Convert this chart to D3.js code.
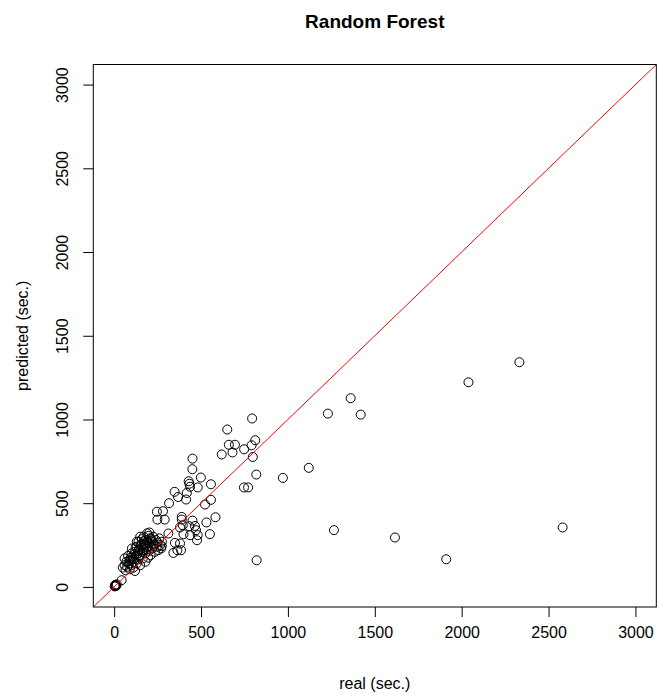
<!DOCTYPE html>
<html>
<head>
<meta charset="utf-8">
<script src="https://cdn.jsdelivr.net/npm/d3@7"></script>
<style>
  body { margin: 0; background: #fff; }
  text { font-family: "Liberation Sans", Arial, sans-serif; fill: #000; }
</style>
</head>
<body>
<div id="chart"></div>
<script>
// real vs predicted run times (sec.)
const realSec = [
  // near zero
  5, 10, 8, 12, 3, 15, 6, 43,
  // dense cluster
  60, 70, 75, 80, 85, 90, 95, 100, 100, 105, 110, 115, 120, 120, 125, 130, 130, 135, 140, 140,
  145, 150, 150, 155, 160, 160, 165, 170, 170, 175, 180, 180, 185, 190, 190, 195, 200, 200,
  205, 210, 210, 215, 220, 225, 230, 235, 240, 245, 250, 255, 260, 265, 270, 275, 110, 130,
  150, 60, 50, 65, 102, 203, 274,
  88, 118, 138, 158, 172, 186, 198, 212, 228, 142, 168, 192, 124, 96, 176,
  // mid group
  246, 281, 249, 291, 312, 316, 341, 350, 364, 379, 385, 348, 368, 389, 389, 379, 395, 399,
  414, 418, 429, 433, 433, 437, 437, 451, 450, 451, 465, 471, 481, 477, 481, 499, 523, 531,
  551, 557, 557, 583, 619, 651, 660, 681, 695, 747, 748, 771, 791, 794, 798, 812, 818, 820,
  // outliers
  971, 1120, 1230, 1265, 1361, 1419, 1616, 1911, 2039, 2332, 2581
];
const predictedSec = [
  10, 5, 12, 8, 3, 15, 6, 40,
  170, 150, 120, 185, 140, 105, 160, 130, 200, 175, 115, 150, 210, 95, 180, 140, 240, 200, 165, 270,
  225, 190, 130, 250, 285, 210, 170, 235, 300, 260, 200, 150, 280, 240, 320, 175, 260, 215,
  290, 245, 190, 270, 230, 300, 255, 210, 280, 240, 265, 220, 290, 250, 230, 270, 165, 270,
  300, 130, 115, 100, 229, 325, 243,
  155, 195, 215, 255, 275, 225, 305, 285, 245, 185, 220, 265, 235, 175, 250,
  449, 452, 402, 402, 319, 500, 203, 263, 219, 259, 219, 568, 537, 418, 402, 355, 368, 315,
  522, 561, 631, 616, 362, 598, 309, 766, 703, 396, 364, 339, 594, 279, 309, 653, 492, 385,
  315, 613, 520, 416, 791, 940, 849, 803, 849, 594, 822, 594, 846, 1006, 776, 876, 671, 159,
  651, 711, 1035, 339, 1127, 1029, 295, 165, 1222, 1342, 355
];
const tickValues = [0, 500, 1000, 1500, 2000, 2500, 3000];
const axisLimits = [-120, 3120];

const margin = { top: 64.5, right: 2.7, bottom: 88, left: 93.3 };
const width = 659 - margin.left - margin.right;
const height = 695 - margin.top - margin.bottom;

const svg = d3.select("#chart").append("svg")
    .attr("width", 659)
    .attr("height", 695);

const plot = svg.append("g")
    .attr("transform", "translate(" + margin.left + "," + margin.top + ")");

const x = d3.scaleLinear().domain(axisLimits).range([0, width]);
const y = d3.scaleLinear().domain(axisLimits).range([height, 0]);

// clip for the reference line
svg.append("defs").append("clipPath").attr("id", "plotClip")
  .append("rect").attr("width", width).attr("height", height);

// points
plot.selectAll("circle.pt")
    .data(realSec.map((r, i) => [r, predictedSec[i]]))
    .enter().append("circle")
    .attr("class", "pt")
    .attr("cx", d => x(d[0]))
    .attr("cy", d => y(d[1]))
    .attr("r", 4.5)
    .style("fill", "none")
    .style("stroke", "#000")
    .style("stroke-width", 1);

// y = x line
plot.append("line")
    .attr("clip-path", "url(#plotClip)")
    .attr("x1", x(axisLimits[0])).attr("y1", y(axisLimits[0]))
    .attr("x2", x(axisLimits[1])).attr("y2", y(axisLimits[1]))
    .style("stroke", "#ff0000")
    .style("stroke-width", 1);

// box
plot.append("rect")
    .attr("width", width).attr("height", height)
    .style("fill", "none").style("stroke", "#000").style("stroke-width", 1);

// axes
const xAxis = d3.axisBottom(x).tickValues(tickValues).tickFormat(d3.format("d"))
    .tickSize(10).tickPadding(10);
const yAxis = d3.axisLeft(y).tickValues(tickValues).tickFormat(d3.format("d"))
    .tickSize(10).tickPadding(10);

const gx = plot.append("g")
    .attr("transform", "translate(0," + height + ")")
    .call(xAxis);
gx.select(".domain").remove();
gx.selectAll("text").style("font-size", "16px").style("font-family", "Liberation Sans, Arial, sans-serif");

const gy = plot.append("g").call(yAxis);
gy.select(".domain").remove();
gy.selectAll(".tick text")
    .attr("transform", "rotate(-90)")
    .attr("x", 0).attr("y", -31)
    .attr("dy", "0.35em")
    .style("text-anchor", "middle")
    .style("font-size", "16px")
    .style("font-family", "Liberation Sans, Arial, sans-serif");

// titles
svg.append("text")
    .attr("x", margin.left + width / 2).attr("y", 28)
    .attr("text-anchor", "middle")
    .style("font-size", "19px").style("font-weight", "bold")
    .text("Random Forest");

svg.append("text")
    .attr("x", margin.left + width / 2).attr("y", 689)
    .attr("text-anchor", "middle")
    .style("font-size", "16px")
    .text("real (sec.)");

svg.append("text")
    .attr("transform", "translate(28," + (margin.top + height / 2) + ") rotate(-90)")
    .attr("text-anchor", "middle")
    .style("font-size", "16px")
    .text("predicted (sec.)");
</script>
</body>
</html>
